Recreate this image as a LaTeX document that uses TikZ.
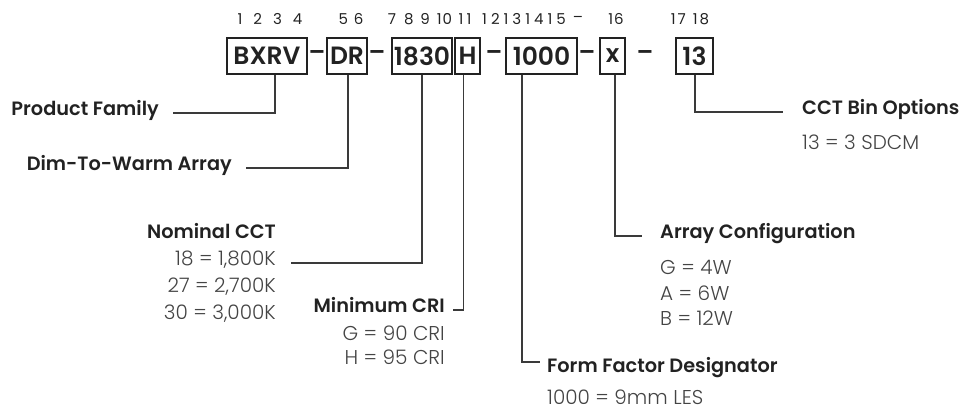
\documentclass[tikz,border=0pt]{standalone}
\usepackage{fontspec}
\setmainfont{Poppins}[BoldFont={Poppins SemiBold}]
\newfontfamily\lightfont{Poppins Light}
\newfontfamily\numfont{Poppins}
\newcommand{\gp}[1]{\hspace{#1pt}}
\definecolor{ink}{HTML}{222222}
\definecolor{soft}{HTML}{444444}
\definecolor{linec}{HTML}{3A3A3A}
\tikzset{
  codebox/.style={draw=ink, line width=1.2pt, inner sep=0pt, minimum height=36pt,
    text=ink, font=\fontsize{25}{25}\selectfont\bfseries},
  dashmark/.style={text=ink, inner sep=0pt, font=\fontsize{24}{24}\selectfont\bfseries},
  posnum/.style={text=ink, inner sep=0pt, font=\fontsize{15}{15}\selectfont\numfont},
  head/.style={text=ink, inner sep=0pt, font=\fontsize{19.3}{19.3}\selectfont\bfseries},
  opt/.style={text=soft, inner sep=0pt, font=\fontsize{20}{20}\selectfont\lightfont},
  conn/.style={draw=linec, line width=1.2pt}
}
\begin{document}
\begin{tikzpicture}[x=1pt,y=-1pt]
\useasboundingbox (0,0) rectangle (969,415);
% position numbers
\node[posnum] (n1) at (270,19) {1\gp{11}2\gp{11}3\gp{11}4};
\node[posnum] (n2) at (351,19) {5\gp{6}6};
\node[posnum] (n3) at (420,19) {7\gp{8}8\gp{7}9\gp{7}1\gp{1}0};
\node[posnum] (n4) at (465,19) {1\gp{3}1};
\node[posnum] (n5) at (524,19) {1\gp{4}2\gp{4}1\gp{4}3\gp{4}1\gp{4}4\gp{4}1\gp{4}5};
\node[posnum] (n6) at (578,19) {–};
\node[posnum] (n7) at (616,19) {1\gp{1}6};
\node[posnum] (n8) at (690,19) {1\gp{2}7\gp{7}1\gp{2}8};
% code boxes
\node[codebox, minimum width=80pt] (bxrv) at (267,56) {BXRV};
\node[codebox, minimum width=40pt] (dr) at (347,56) {DR};
\node[codebox, minimum width=60pt] (cct) at (422,56) {1830};
\node[codebox, minimum width=25pt] (cri) at (467.5,56) {H};
\node[codebox, minimum width=71pt] (ffd) at (541.5,56) {1000};
\node[codebox, minimum width=25pt] (cfg) at (612.5,56) {x};
\node[codebox, minimum width=37pt] (bin) at (694.5,56) {13};
% dashes
\node[dashmark] (d1) at (317,56) {–};
\node[dashmark] (d2) at (377,56) {–};
\node[dashmark] (d3) at (494,56) {–};
\node[dashmark] (d4) at (587,56) {–};
\node[dashmark] (d5) at (645,56) {–};
% headings and options
\node[head, anchor=mid east] (pf) at (159,113) {Product Family};
\node[head, anchor=mid east] (dtw) at (232,168) {Dim-To-Warm Array};
\node[head, anchor=mid east] (nc) at (276,236) {Nominal CCT};
\node[opt, anchor=mid east] (nc1) at (276,263) {18 = 1,800K};
\node[opt, anchor=mid east] (nc2) at (276,290) {27 = 2,700K};
\node[opt, anchor=mid east] (nc3) at (276,317) {30 = 3,000K};
\node[head, anchor=mid east] (mc) at (445,310) {Minimum CRI};
\node[opt, anchor=mid east] (mc1) at (445,338) {G = 90 CRI};
\node[opt, anchor=mid east] (mc2) at (445,362) {H = 95 CRI};
\node[head, anchor=mid west] (ff) at (547,370) {Form Factor Designator};
\node[opt, anchor=mid west] (ff1) at (547,402) {1000 = 9mm LES};
\node[head, anchor=mid west] (ac) at (660,236) {Array Configuration};
\node[opt, anchor=mid west] (ac1) at (660,272) {G = 4W};
\node[opt, anchor=mid west] (ac2) at (660,298) {A = 6W};
\node[opt, anchor=mid west] (ac3) at (660,323) {B = 12W};
\node[head, anchor=mid west] (cb) at (802,112) {CCT Bin Options};
\node[opt, anchor=mid west] (cb1) at (802,147) {13 = 3 SDCM};
% connectors
\draw[conn] ([xshift=14pt]pf.mid east) -| ([xshift=8pt]bxrv.south);
\draw[conn] ([xshift=14pt]dtw.mid east) -| ([xshift=1pt]dr.south);
\draw[conn] ([xshift=15pt]nc1.mid east) -| (cct.south);
\draw[conn] ([xshift=8pt]mc.mid east) -| ([xshift=-4pt]cri.south);
\draw[conn] ([xshift=-19.5pt]ffd.south) |- ([xshift=-7pt,yshift=8pt]ff.mid west);
\draw[conn] ([xshift=2.5pt]cfg.south) |- ([xshift=-18pt]ac.mid west);
\draw[conn] ([xshift=0.5pt]bin.south) |- ([xshift=-19pt]cb.mid west);
\end{tikzpicture}
\end{document}
